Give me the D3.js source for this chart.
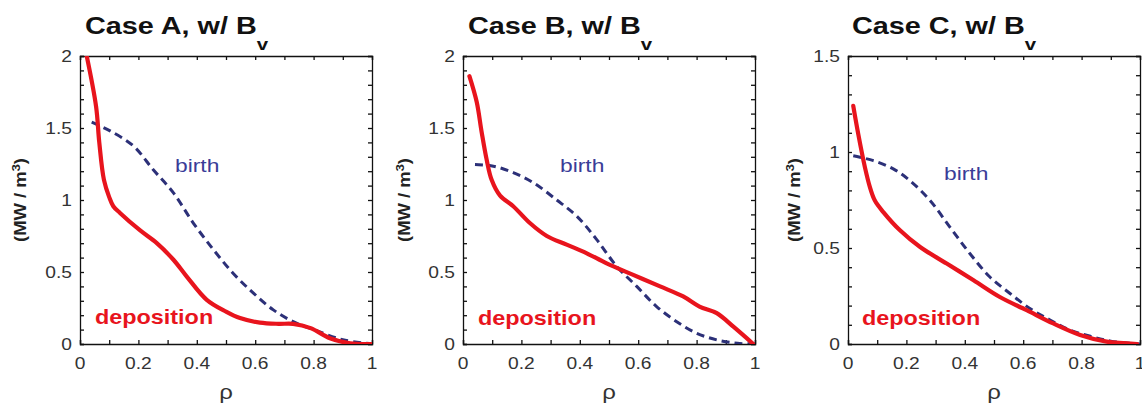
<!DOCTYPE html>
<meta charset="utf-8">
<script src="https://d3js.org/d3.v7.min.js"></script>
<style>
body { margin: 0; background: #fff; }
svg text { font-family: "Liberation Sans", Arial, sans-serif; }
.axis path, .axis line { stroke: #111; stroke-width: 1.3; }
.tickLabel { font-size: 16px; fill: #333; }
.title { font-size: 24px; font-weight: bold; fill: #111; }
.ylab { font-size: 13px; font-weight: bold; fill: #222; }
.rho { font-size: 20px; fill: #333; }
.dep { fill: none; stroke: #e8141d; stroke-width: 4.2; stroke-linejoin: round; stroke-linecap: round; }
.birth { fill: none; stroke: #2c3078; stroke-width: 3; stroke-dasharray: 8 5; }
.birthText { font-size: 19px; fill: #3a3c98; }
.depText { font-size: 19.5px; font-weight: bold; fill: #e8141d; }
</style>
<body>
<script>

// tick labels
var xTicks = [0, 0.2, 0.4, 0.6, 0.8, 1];
var yTicksAB = [0, 0.5, 1, 1.5, 2];
var yTicksC = [0, 0.5, 1, 1.5];

var titles = ["Case A, w/ B", "Case B, w/ B", "Case C, w/ B"];
var yMax = [2, 2, 1.5];

// Case A
var depRhoA = [0.02, 0.055, 0.066, 0.082, 0.1, 0.114, 0.137, 0.205, 0.263, 0.32, 0.365, 0.434, 0.5, 0.548, 0.616, 0.68, 0.73, 0.79, 0.856, 0.925, 1.0];
var depA    = [2.03, 1.65, 1.40, 1.14, 1.02, 0.957, 0.91, 0.79, 0.70, 0.585, 0.47, 0.307, 0.225, 0.18, 0.148, 0.14, 0.14, 0.11, 0.04, 0.005, 0.0];
var birthRhoA = [0.04, 0.103, 0.183, 0.251, 0.32, 0.388, 0.457, 0.525, 0.594, 0.662, 0.73, 0.8, 0.9, 1.0];
var birthA    = [1.54, 1.48, 1.375, 1.21, 1.05, 0.84, 0.655, 0.49, 0.353, 0.237, 0.155, 0.10, 0.03, 0.0];

// Case B
var depRhoB = [0.022, 0.047, 0.064, 0.081, 0.098, 0.127, 0.172, 0.229, 0.287, 0.355, 0.424, 0.492, 0.583, 0.675, 0.754, 0.81, 0.869, 0.926, 0.994];
var depB    = [1.86, 1.68, 1.47, 1.28, 1.14, 1.03, 0.957, 0.84, 0.75, 0.69, 0.63, 0.56, 0.48, 0.40, 0.33, 0.26, 0.214, 0.12, 0.0];
var birthRhoB = [0.041, 0.104, 0.172, 0.241, 0.321, 0.39, 0.458, 0.526, 0.595, 0.663, 0.732, 0.80, 0.87, 0.94, 1.0];
var birthB    = [1.247, 1.235, 1.19, 1.12, 1.0, 0.887, 0.725, 0.54, 0.40, 0.26, 0.155, 0.075, 0.028, 0.005, 0.0];

// Case C
var depRhoC = [0.018, 0.035, 0.058, 0.075, 0.092, 0.121, 0.178, 0.247, 0.338, 0.43, 0.52, 0.612, 0.703, 0.795, 0.886, 0.99];
var depC    = [1.24, 1.094, 0.92, 0.817, 0.747, 0.687, 0.592, 0.505, 0.419, 0.332, 0.245, 0.176, 0.107, 0.047, 0.012, 0.0];
var birthRhoC = [0.018, 0.087, 0.155, 0.212, 0.281, 0.349, 0.418, 0.486, 0.555, 0.623, 0.692, 0.76, 0.83, 0.9, 1.0];
var birthC    = [0.98, 0.955, 0.912, 0.851, 0.747, 0.609, 0.47, 0.349, 0.263, 0.185, 0.125, 0.073, 0.04, 0.015, 0.0];

var panels = [
  {dep: d3.zip(depRhoA, depA), birth: d3.zip(birthRhoA, birthA), yTicks: yTicksAB},
  {dep: d3.zip(depRhoB, depB), birth: d3.zip(birthRhoB, birthB), yTicks: yTicksAB},
  {dep: d3.zip(depRhoC, depC), birth: d3.zip(birthRhoC, birthC), yTicks: yTicksC}
];

// layout (pixels)
var SX = 1.2; // text in the picture is a bit wide
var lefts = [80, 463, 848];
var pw = 292, plotTop = 56, plotBottom = 344;
var yLabX = [21, 405, 795];
var titleX = [85, 468, 852];
var birthPos = [[175, 172], [560, 172], [944, 180]];
var depPos = [[95, 324], [478, 325], [862, 325]];

var svg = d3.select("body").append("svg")
  .attr("width", 1142)
  .attr("height", 407);

svg.append("rect").attr("width", 1142).attr("height", 407).attr("fill", "#fff");

function wideText(g, x, y, str, cls) {
  return g.append("text")
    .attr("class", cls)
    .attr("transform", "translate(" + x + "," + y + ") scale(" + SX + ",1)")
    .text(str);
}

panels.forEach(function(p, i) {

  var x = d3.scaleLinear().domain([0, 1]).range([lefts[i], lefts[i] + pw]);
  var y = d3.scaleLinear().domain([0, yMax[i]]).range([plotBottom, plotTop]);

  var g = svg.append("g");

  g.append("clipPath").attr("id", "clip" + i)
    .append("rect")
    .attr("x", lefts[i]).attr("y", plotTop)
    .attr("width", pw).attr("height", plotBottom - plotTop);

  var minorX = d3.range(0, 11).map(function(d) { return d / 10; });
  var minorY = d3.range(0, Math.round(yMax[i] * 10) + 1).map(function(d) { return d / 10; });

  // inward ticks on all four sides
  g.append("g").attr("class", "axis")
    .attr("transform", "translate(0," + plotBottom + ")")
    .call(d3.axisBottom(x).tickValues(minorX).tickSize(-4).tickFormat(""));
  g.append("g").attr("class", "axis")
    .attr("transform", "translate(0," + plotTop + ")")
    .call(d3.axisTop(x).tickValues(minorX).tickSize(-4).tickFormat(""));
  g.append("g").attr("class", "axis")
    .attr("transform", "translate(" + lefts[i] + ",0)")
    .call(d3.axisLeft(y).tickValues(minorY).tickSize(-4).tickFormat(""));
  g.append("g").attr("class", "axis")
    .attr("transform", "translate(" + (lefts[i] + pw) + ",0)")
    .call(d3.axisRight(y).tickValues(minorY).tickSize(-4).tickFormat(""));
  g.selectAll(".axis .domain").attr("stroke-width", 1.6);

  // tick labels
  xTicks.forEach(function(t) {
    wideText(g, x(t), 369, t, "tickLabel").attr("text-anchor", "middle");
  });
  p.yTicks.forEach(function(t) {
    wideText(g, lefts[i] - 8, y(t) + 6, t, "tickLabel").attr("text-anchor", "end");
  });

  // curves
  var line = d3.line()
    .x(function(d) { return x(d[0]); })
    .y(function(d) { return y(d[1]); })
    .curve(d3.curveCatmullRom.alpha(0.5));

  var curves = g.append("g").attr("clip-path", "url(#clip" + i + ")");
  curves.append("path").attr("class", "birth").attr("d", line(p.birth));
  curves.append("path").attr("class", "dep").attr("d", line(p.dep));

  // annotations
  wideText(g, birthPos[i][0], birthPos[i][1], "birth", "birthText");
  wideText(g, depPos[i][0], depPos[i][1], "deposition", "depText");

  // title with subscript
  var tt = wideText(g, titleX[i], 34, "", "title");
  tt.append("tspan").text(titles[i]);
  tt.append("tspan").attr("dy", 16).attr("font-size", "17px").text("v");

  // rho
  wideText(g, lefts[i] + pw / 2, 399, "ρ", "rho").attr("text-anchor", "middle");

  // y label
  var yl = g.append("text").attr("class", "ylab").attr("text-anchor", "middle");
  yl.append("tspan").text("(MW / m");
  yl.append("tspan").attr("dy", -5).attr("font-size", "9px").text("3");
  yl.append("tspan").attr("dy", 5).text(")");
  var len = yl.node().getComputedTextLength();
  yl.attr("transform", "translate(" + (yLabX[i] + 5) + "," + (plotTop + plotBottom) / 2 + ") rotate(-90) scale(" + (84 / len) + ",1.2)");
});

</script>
</body>
